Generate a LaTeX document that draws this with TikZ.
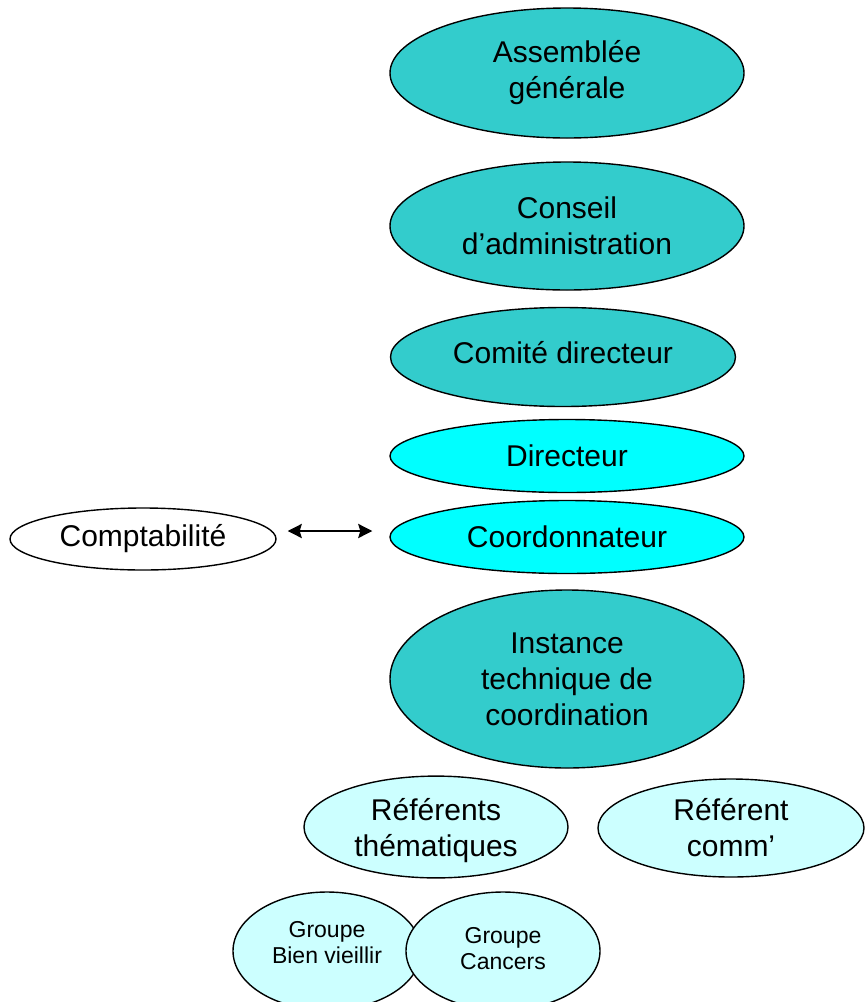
\documentclass[tikz,border=0pt]{standalone}
\usepackage{fontspec}
\setmainfont{Liberation Sans}
\usetikzlibrary{shapes.geometric,arrows.meta}
\definecolor{teal1}{HTML}{33CCCC}
\definecolor{cyan1}{HTML}{00FFFF}
\definecolor{light1}{HTML}{CCFFFF}
\newcommand{\twolines}[2]{\begin{tabular}{@{}c@{}}#1\\#2\end{tabular}}
\newcommand{\shifttext}[2]{\raisebox{#1}[\height][\depth]{#2}}
\begin{document}
\begin{tikzpicture}[x=0.5pt,y=-0.5pt,
  oval/.style={ellipse,draw=black,line width=0.7pt,inner sep=0pt,align=center,
    font=\fontsize{15}{18}\selectfont},
  big/.style={oval,fill=teal1},
  mid/.style={oval,fill=cyan1},
  low/.style={oval,fill=light1},
  grp/.style={oval,fill=light1,font=\fontsize{11.5}{13}\selectfont},
  link/.style={line width=1.2pt,{Stealth[length=7pt,width=7pt,inset=1pt]}-{Stealth[length=7pt,width=7pt,inset=1pt]}}]
\useasboundingbox (0,0) rectangle (864,1002);
\node[big,minimum width=177pt,minimum height=65pt] (ag) at (567,73) {Assemblée\\générale};
\node[big,minimum width=177pt,minimum height=64pt] (ca) at (567,226) {Conseil\\d’administration};
\node[big,minimum width=172.5pt,minimum height=49.5pt] (cd) at (563,357) {\shifttext{2pt}{Comité directeur}};
\node[mid,minimum width=177pt,minimum height=36.5pt] (dir) at (567,456) {Directeur};
\node[mid,minimum width=177pt,minimum height=36.5pt] (coord) at (567,537) {Coordonnateur};
\node[oval,fill=white,minimum width=133pt,minimum height=31pt] (compta) at (143,539) {Comptabilité};
\node[big,minimum width=177pt,minimum height=89pt] (itc) at (567,679) {Instance\\technique de\\coordination};
\node[low,minimum width=132pt,minimum height=49pt] (rt) at (436,827) {\shifttext{-2pt}{\twolines{Référents}{thématiques}}};
\node[low,minimum width=133pt,minimum height=49pt] (rc) at (731,828) {Référent\\comm’};
\node[grp,minimum width=94pt,minimum height=59pt] (gbv) at (327,951) {\shifttext{3pt}{\twolines{Groupe}{Bien vieillir}}};
\node[grp,minimum width=97pt,minimum height=59pt] (gc) at (503,951) {\twolines{Groupe}{Cancers}};
\draw[link] ([xshift=5.5pt,yshift=4pt]compta.east) -- ([xshift=-8.5pt,yshift=3pt]coord.west);
\end{tikzpicture}
\end{document}
